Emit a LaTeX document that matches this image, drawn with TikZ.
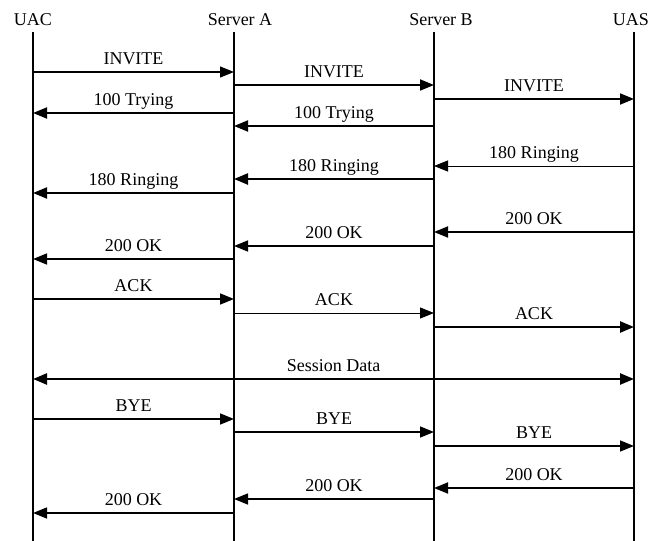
\documentclass[tikz,border=0pt]{standalone}
\usepackage{fontspec}
\setmainfont{Liberation Serif}
\usetikzlibrary{arrows.meta,positioning}

\begin{document}
\begin{tikzpicture}[x=1pt, y=-1pt,
  hd/.style={anchor=base, inner sep=0pt, font=\fontsize{18}{20}\selectfont},
  lbl/.style={anchor=base, yshift=8pt, inner sep=0pt, font=\fontsize{18}{20}\selectfont},
  life/.style={line width=#1},
  msg/.style={-{Triangle[length=14pt,width=11pt]}, line width=#1}
]
  \useasboundingbox (0,0) rectangle (657,541);
  % headers
  \node[hd] (uac) at (33,25) {UAC};
  \node[hd] (sa) at (240,25) {Server A};
  \node[hd] (sb) at (441,25) {Server B};
  \node[hd] (uas) at (631,25) {UAS};
  % lifelines
  \coordinate (uac top) at (33,32);  \coordinate (uac bot) at (33,541);
  \coordinate (sa top) at (234,32);  \coordinate (sa bot) at (234,541);
  \coordinate (sb top) at (434,32);  \coordinate (sb bot) at (434,541);
  \coordinate (uas top) at (634,32); \coordinate (uas bot) at (634,541);
  \draw[life=2.6pt] (uac top) -- (uac bot);
  \foreach \p in {sa,sb,uas}{\draw[life=1.8pt] (\p\space top) -- (\p\space bot);}
  % messages
  \foreach \i/\y/\a/\b/\w/\t in {
      1/72/uac/sa/1.2pt/INVITE, 2/85/sa/sb/1.8pt/INVITE, 3/99/sb/uas/1.8pt/INVITE,
      4/113/sa/uac/1.8pt/100 Trying, 5/126/sb/sa/1.8pt/100 Trying,
      6/166/uas/sb/0.9pt/180 Ringing, 7/179/sb/sa/2.4pt/180 Ringing, 8/193/sa/uac/2pt/180 Ringing,
      9/232/uas/sb/1.8pt/200 OK, 10/246/sb/sa/1.5pt/200 OK, 11/259/sa/uac/1.5pt/200 OK,
      12/299/uac/sa/1.5pt/ACK, 13/313/sa/sb/0.8pt/ACK, 14/327/sb/uas/2.4pt/ACK,
      16/419/uac/sa/1.5pt/BYE, 17/432/sa/sb/1.5pt/BYE, 18/446/sb/uas/1.5pt/BYE,
      19/488/uas/sb/1.8pt/200 OK, 20/499/sb/sa/1.5pt/200 OK, 21/513/sa/uac/1.5pt/200 OK}{
    \coordinate (m\i) at (0,\y);
    \draw[msg=\w] (\a\space top |- m\i) -- node[lbl] {\t} (\b\space top |- m\i);
  }
  % session data
  \coordinate (m15) at (0,379);
  \draw[msg=2.4pt, {Triangle[length=14pt,width=11pt]}-{Triangle[length=14pt,width=11pt]}]
    (uac top |- m15) -- node[lbl] {Session Data} (uas top |- m15);
\end{tikzpicture}
\end{document}
